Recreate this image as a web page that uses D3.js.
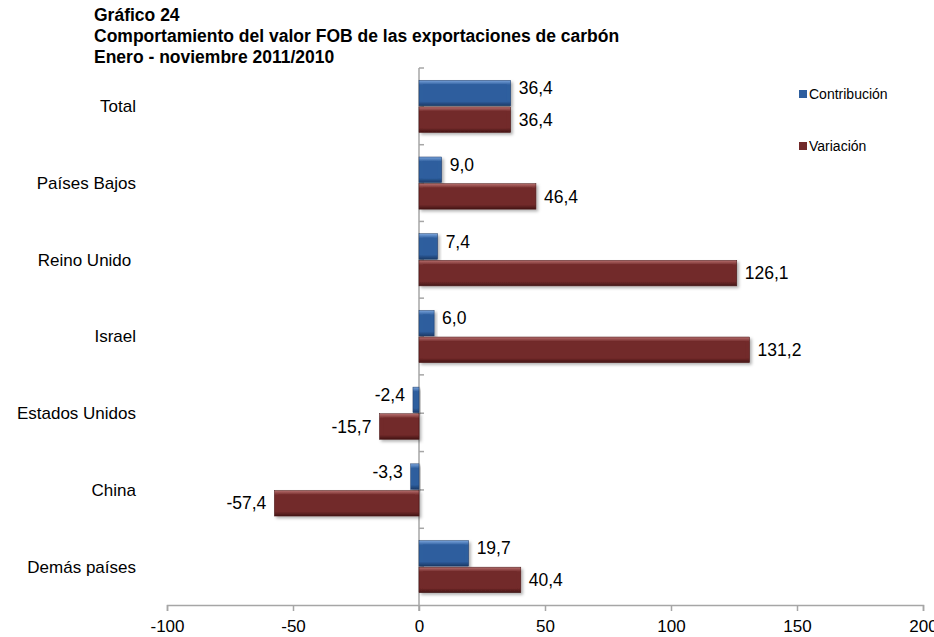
<!DOCTYPE html>
<html>
<head>
<meta charset="utf-8">
<script src="https://cdn.jsdelivr.net/npm/d3@7"></script>
<style>
  body { margin: 0; background: #fff; }
  text { font-family: Arial, "Liberation Sans", sans-serif; }
</style>
</head>
<body>
<div id="chart"></div>
<script>
// chart data
var titleLines = ['Gráfico 24',
                  'Comportamiento del valor FOB de las exportaciones de carbón',
                  'Enero - noviembre 2011/2010'];
var categories = ['Total', 'Países Bajos', 'Reino Unido ', 'Israel', 'Estados Unidos', 'China', 'Demás países'];
var contribucion = [36.4, 9.0, 7.4, 6.0, -2.4, -3.3, 19.7];
var variacion = [36.4, 46.4, 126.1, 131.2, -15.7, -57.4, 40.4];
var seriesNames = ['Contribución', 'Variación'];
var xTicks = [-100, -50, 0, 50, 100, 150, 200];

var width = 934, height = 637;

var locale = d3.formatLocale({decimal: ',', thousands: '.', grouping: [3], currency: ['', ''], minus: '-'});
var fmtVal = locale.format('.1f');
var fmtTick = locale.format('d');

var svg = d3.select('#chart').append('svg')
  .attr('width', width)
  .attr('height', height);

// bevel gradients + shadow
var defs = svg.append('defs');
var palette = {
  c: {base: '#2e5e9e', light: '#7aa4dc', dark: '#1c3a66'},
  v: {base: '#722a2a', light: '#b76f6e', dark: '#441515'}
};
Object.keys(palette).forEach(function(k) {
  var g = defs.append('linearGradient').attr('id', 'grad-' + k)
    .attr('x1', 0).attr('y1', 0).attr('x2', 0).attr('y2', 1);
  g.append('stop').attr('offset', '0%').attr('stop-color', palette[k].light);
  g.append('stop').attr('offset', '18%').attr('stop-color', palette[k].base);
  g.append('stop').attr('offset', '82%').attr('stop-color', palette[k].base);
  g.append('stop').attr('offset', '100%').attr('stop-color', palette[k].dark);
});
defs.append('filter').attr('id', 'shadow')
  .attr('x', '-10%').attr('y', '-20%').attr('width', '130%').attr('height', '160%')
  .append('feDropShadow')
  .attr('dx', 2).attr('dy', 2).attr('stdDeviation', 1.5)
  .attr('flood-color', '#000').attr('flood-opacity', 0.3);

// title
svg.append('g').selectAll('text')
  .data(titleLines)
  .enter().append('text')
  .attr('x', 94)
  .attr('y', function(d, i) { return 21 + i * 21; })
  .style('font-size', '17.5px')
  .style('font-weight', 'bold')
  .text(function(d) { return d; });

var x = d3.scaleLinear().domain([-100, 200]).range([167, 923]);
var y = d3.scaleBand().domain(categories).range([68, 605]).paddingInner(0.32).paddingOuter(0.16);
var ySub = d3.scaleBand().domain(['c', 'v']).range([0, y.bandwidth()]).paddingInner(0.04);

// x axis
var xAxis = svg.append('g')
  .attr('transform', 'translate(0,605)')
  .call(d3.axisBottom(x).tickValues(xTicks).tickFormat(fmtTick).tickSize(6).tickPadding(9));
xAxis.select('.domain').attr('stroke', '#a6a6a6').attr('stroke-width', 1.5);
xAxis.selectAll('.tick line').attr('stroke', '#a6a6a6').attr('stroke-width', 1.5);
xAxis.selectAll('.tick text')
  .style('font-size', '17px')
  .style('font-family', 'Arial, "Liberation Sans", sans-serif')
  .attr('fill', '#000');

// vertical category axis at zero
var yAxisG = svg.append('g');
yAxisG.append('line')
  .attr('x1', x(0)).attr('x2', x(0))
  .attr('y1', y.range()[0]).attr('y2', y.range()[1] + 6)
  .attr('stroke', '#a6a6a6').attr('stroke-width', 1.5);
var halfTicks = d3.range(categories.length * 2).map(function(i) { return y.range()[0] + i * y.step() / 2; });
yAxisG.selectAll('.ytick')
  .data(halfTicks)
  .enter().append('line')
  .attr('class', 'ytick')
  .attr('x1', x(0)).attr('x2', x(0) + 5)
  .attr('y1', function(d) { return d; }).attr('y2', function(d) { return d; })
  .attr('stroke', '#a6a6a6').attr('stroke-width', 1.5);

// category labels
svg.append('g').selectAll('text')
  .data(categories)
  .enter().append('text')
  .attr('x', 136)
  .attr('y', function(d) { return y(d) + y.bandwidth() / 2; })
  .attr('dy', '0.35em')
  .attr('text-anchor', 'end')
  .style('white-space', 'pre')
  .style('font-size', '17px')
  .text(function(d) { return d; });

// bars
var rows = [];
categories.forEach(function(c, i) {
  rows.push({cat: c, key: 'c', value: contribucion[i]});
  rows.push({cat: c, key: 'v', value: variacion[i]});
});

var bars = svg.append('g').selectAll('g.bar')
  .data(rows)
  .enter().append('g')
  .attr('class', 'bar');

bars.append('rect')
  .attr('x', function(d) { return Math.min(x(0), x(d.value)); })
  .attr('y', function(d) { return y(d.cat) + ySub(d.key); })
  .attr('width', function(d) { return Math.abs(x(d.value) - x(0)); })
  .attr('height', ySub.bandwidth())
  .attr('fill', function(d) { return 'url(#grad-' + d.key + ')'; })
  .attr('stroke', function(d) { return palette[d.key].dark; })
  .attr('stroke-width', 0.5)
  .attr('filter', 'url(#shadow)');

bars.append('rect')
  .attr('x', function(d) {
    var w = Math.abs(x(d.value) - x(0));
    return Math.min(x(0), x(d.value)) + Math.min(4, w / 3);
  })
  .attr('y', function(d) { return y(d.cat) + ySub(d.key) + 4; })
  .attr('width', function(d) {
    var w = Math.abs(x(d.value) - x(0));
    return Math.max(0, w - 2 * Math.min(4, w / 3));
  })
  .attr('height', ySub.bandwidth() - 8)
  .attr('fill', function(d) { return palette[d.key].base; });

// value labels
bars.append('text')
  .attr('x', function(d) { return d.value >= 0 ? x(d.value) + 8 : x(d.value) - 8; })
  .attr('y', function(d) { return y(d.cat) + ySub(d.key) + ySub.bandwidth() / 2 + (d.key === 'c' ? -5 : 0); })
  .attr('dy', '0.35em')
  .attr('text-anchor', function(d) { return d.value >= 0 ? 'start' : 'end'; })
  .style('font-size', '17.5px')
  .text(function(d) { return fmtVal(d.value); });

// legend
var legend = svg.append('g').selectAll('g.legend')
  .data(seriesNames)
  .enter().append('g')
  .attr('class', 'legend')
  .attr('transform', function(d, i) { return 'translate(799,' + (90 + i * 52) + ')'; });
legend.append('rect')
  .attr('width', 8).attr('height', 8)
  .attr('fill', function(d, i) { return i === 0 ? palette.c.base : palette.v.base; });
legend.append('text')
  .attr('x', 10).attr('y', 4)
  .attr('dy', '0.35em')
  .style('font-size', '14px')
  .text(function(d) { return d; });
</script>
</body>
</html>
